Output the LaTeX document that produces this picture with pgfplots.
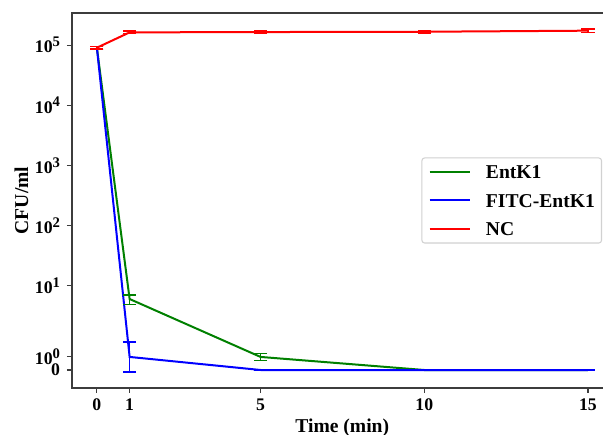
\documentclass[border=0pt]{standalone}
\usepackage{fontspec}
\setmainfont{Liberation Serif}
\usepackage{pgfplots}
\pgfplotsset{compat=1.18}

% powers of ten written as text, so they take the bold serif face
\newcommand{\pw}[1]{10\raisebox{0.34em}{\fontsize{11}{11}\selectfont\bfseries #1}}

\definecolor{mplgreen}{RGB}{0,128,0}
\definecolor{spine}{RGB}{60,60,60}

% error bar: a vertical segment from low to high with flat caps
\pgfplotsset{
  errbar/.style={forget plot, draw=#1, color=#1, sharp plot, line width=1.3pt,
    mark=-, mark size=4.9pt, mark options={line width=1.2pt, draw=#1}},
}

\begin{document}
\begin{tikzpicture}
\begin{axis}[
  name=ax,
  scale only axis,
  width=405.4pt, height=281.25pt,
  xmin=-0.76, xmax=15.75,
  ymin=-1.35, ymax=3.45e5,
  % symmetric-log scale: linear below 5, logarithmic above
  y coord trafo/.code={%
    \begingroup
    \pgfkeys{/pgf/fpu=true,/pgf/fpu/output format=fixed}%
    \pgfmathparse{(#1>4.99999) ? (1.1111+ln(max(#1,5)/5)*0.4342945) : (0.2222*(#1))}%
    \xdef\symlogresult{\pgfmathresult}%
    \endgroup
    \let\pgfmathresult\symlogresult},
  xtick={0,1,5,10,15},
  xticklabels={0,1,5,10,15},
  ytick={0,1,10,100,1000,10000,100000},
  yticklabels={0,\pw{0},\pw{1},\pw{2},\pw{3},\pw{4},\pw{5}},
  xtick pos=bottom, ytick pos=left,
  tick align=outside,
  major tick length=3.75pt,
  minor tick num=0,
  tick style={spine, line width=0.8pt},
  axis line style={spine, line width=0.9pt},
  ticklabel style={font=\fontsize{13.3}{16}\selectfont\bfseries},
  xticklabel style={inner sep=0pt, anchor=north, yshift=-4pt},
  yticklabel style={inner sep=0pt, anchor=east, xshift=-5pt},
  xlabel={Time (min)},
  ylabel={CFU/ml},
  label style={font=\fontsize{14.7}{17}\selectfont\bfseries},
  xlabel style={at={(axis description cs:0.5,-0.1195)}, anchor=base, inner sep=0pt},
  ylabel style={at={(axis description cs:-0.0938,0.5)}, anchor=center, inner sep=0pt},
  legend cell align=left,
  legend style={
    at={(axis description cs:0.9806,0.5)}, anchor=east,
    draw=black!18, line width=0.8pt, rounded corners=2pt,
    font=\fontsize{14.7}{17}\selectfont\bfseries,
    inner xsep=5pt, inner ysep=5.5pt,
    row sep=11.4pt, column sep=11.5pt,
    nodes={inner sep=0pt, text height=10pt, text depth=0pt},
  },
  legend image code/.code={\draw[#1, line width=1.5pt] (0pt,0pt) -- (30pt,0pt);},
]

% EntK1
\addplot[mplgreen, line width=1.5pt, mark=none]
  coordinates {(0,91000) (1,5.9) (5,0.98) (10,0) (15,0)};
\addlegendentry{EntK1}
\addplot[errbar=mplgreen] coordinates {(0,86000) (0,96000)};
\addplot[errbar=mplgreen] coordinates {(1,4.9) (1,6.9)};
\addplot[errbar=mplgreen] coordinates {(5,0.71) (5,1.25)};
\addplot[errbar=mplgreen] coordinates {(10,0) (10,0)};
\addplot[errbar=mplgreen] coordinates {(15,0) (15,0)};

% FITC-EntK1
\addplot[blue, line width=1.5pt, mark=none]
  coordinates {(0,91000) (1,0.98) (5,0) (10,0) (15,0)};
\addlegendentry{FITC-EntK1}
\addplot[errbar=blue] coordinates {(0,86000) (0,96000)};
\addplot[errbar=blue] coordinates {(1,-0.14) (1,2.10)};
\addplot[errbar=blue] coordinates {(5,0) (5,0)};
\addplot[errbar=blue] coordinates {(10,0) (10,0)};
\addplot[errbar=blue] coordinates {(15,0) (15,0)};

% NC
\addplot[red, line width=1.5pt, mark=none]
  coordinates {(0,91000) (1,164000) (5,166000) (10,168000) (15,175000)};
\addlegendentry{NC}
\addplot[errbar=red] coordinates {(0,86000) (0,96000)};
\addplot[errbar=red] coordinates {(1,156000) (1,172000)};
\addplot[errbar=red] coordinates {(5,158000) (5,174000)};
\addplot[errbar=red] coordinates {(10,160000) (10,176000)};
\addplot[errbar=red] coordinates {(15,162000) (15,188000)};

\end{axis}
\pgfresetboundingbox
\useasboundingbox ([xshift=-54pt,yshift=-35.25pt]ax.south west) rectangle ++(452.25pt,326.25pt);
\end{tikzpicture}
\end{document}
